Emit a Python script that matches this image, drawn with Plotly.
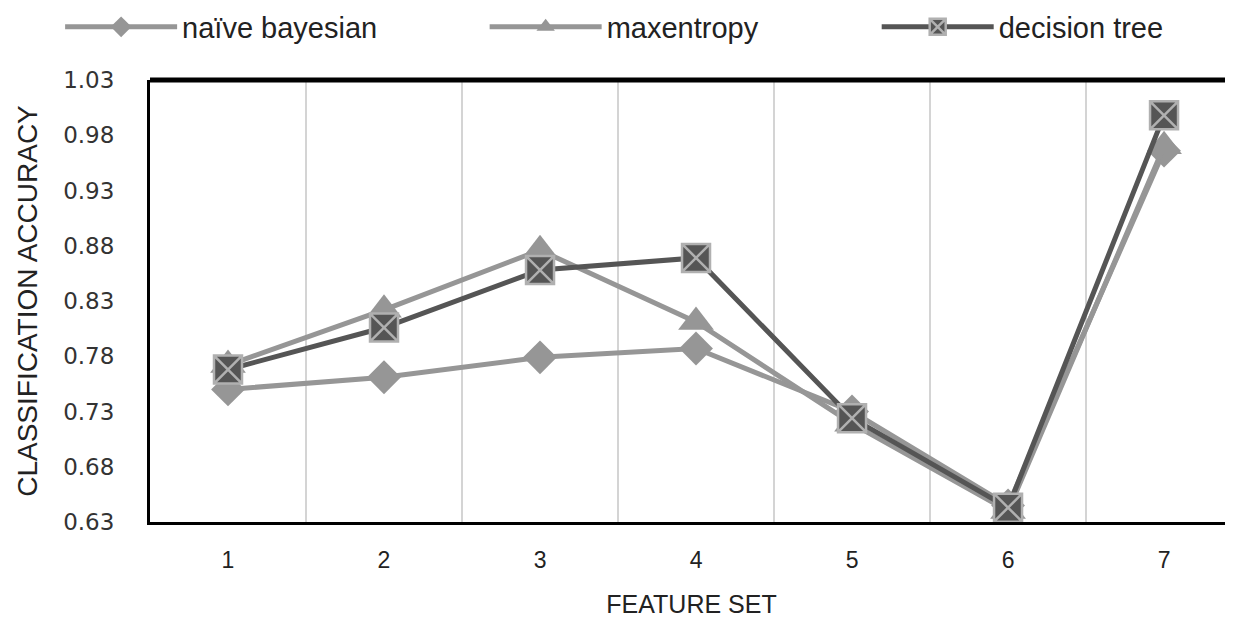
import plotly.graph_objects as go

feature_sets = [1, 2, 3, 4, 5, 6, 7]
tick_labels = ["1", "2", "3", "4", "5", "6", "7"]
naive_bayesian = [0.750, 0.761, 0.779, 0.787, 0.730, 0.645, 0.966]
maxentropy = [0.772, 0.822, 0.876, 0.811, 0.719, 0.640, 0.970]
decision_tree = [0.768, 0.806, 0.858, 0.869, 0.724, 0.643, 0.998]

TXT = "Liberation Sans, Arial, sans-serif"
LIGHT = "#969696"
DARK = "#555555"

fig = go.Figure()
fig.add_trace(go.Scatter(
    x=feature_sets, y=naive_bayesian, name="naïve bayesian", mode="lines+markers",
    line=dict(color=LIGHT, width=5), legend="legend",
    marker=dict(symbol="diamond", size=26, color=LIGHT, line=dict(width=0)),
))
fig.add_trace(go.Scatter(
    x=feature_sets, y=maxentropy, name="maxentropy", mode="lines+markers",
    line=dict(color=LIGHT, width=5), legend="legend2",
    marker=dict(symbol="triangle-up", size=31, color=LIGHT, line=dict(width=0)),
))
fig.add_trace(go.Scatter(
    x=feature_sets, y=decision_tree, name="decision tree", mode="lines+markers",
    line=dict(color=DARK, width=5), legend="legend3",
    marker=dict(symbol="square-x", size=28, color=DARK, line=dict(color="#b0b0b0", width=2.5)),
))

def leg(x):
    return dict(
        orientation="h", x=x, xanchor="left", y=1.12, yanchor="middle",
        font=dict(family=TXT, size=29, color="#222222"),
        itemwidth=112, bgcolor="rgba(0,0,0,0)",
    )

fig.update_layout(
    width=1225, height=615,
    margin=dict(l=142, r=0, t=72, b=101, autoexpand=False),
    paper_bgcolor="white", plot_bgcolor="white",
    font=dict(family=TXT, color="#333333", size=22),
    showlegend=True,
    legend=leg(-0.083),
    legend2=leg(0.309),
    legend3=leg(0.671),
    xaxis=dict(
        range=[0.5, 7.442], tickvals=feature_sets, ticktext=tick_labels,
        showgrid=False, zeroline=False,
        showline=True, linecolor="black", linewidth=3,
        ticks="", tickfont=dict(family=TXT, size=23, color="#222222"),
        ticklabelstandoff=15,
        minor=dict(tick0=0.5, dtick=1, showgrid=True, gridcolor="#d4d4d4", gridwidth=2, ticks=""),
        title=dict(text="FEATURE SET", font=dict(family=TXT, size=25, color="#222222"), standoff=24),
    ),
    yaxis=dict(
        range=[0.63, 1.03], tick0=0.63, dtick=0.05, tickformat=".2f",
        showgrid=False, zeroline=False,
        showline=True, linecolor="black", linewidth=3,
        ticks="", tickfont=dict(family="DejaVu Sans, Verdana, sans-serif", size=23, color="#333333"),
        ticklabelstandoff=28,
        title=dict(text="CLASSIFICATION ACCURACY", font=dict(family=TXT, size=28, color="#222222"), standoff=18),
    ),
    shapes=[dict(type="line", xref="paper", yref="paper", x0=0, x1=1, y0=1, y1=1,
                 line=dict(color="black", width=5))],
)

fig.write_html("out.html")
